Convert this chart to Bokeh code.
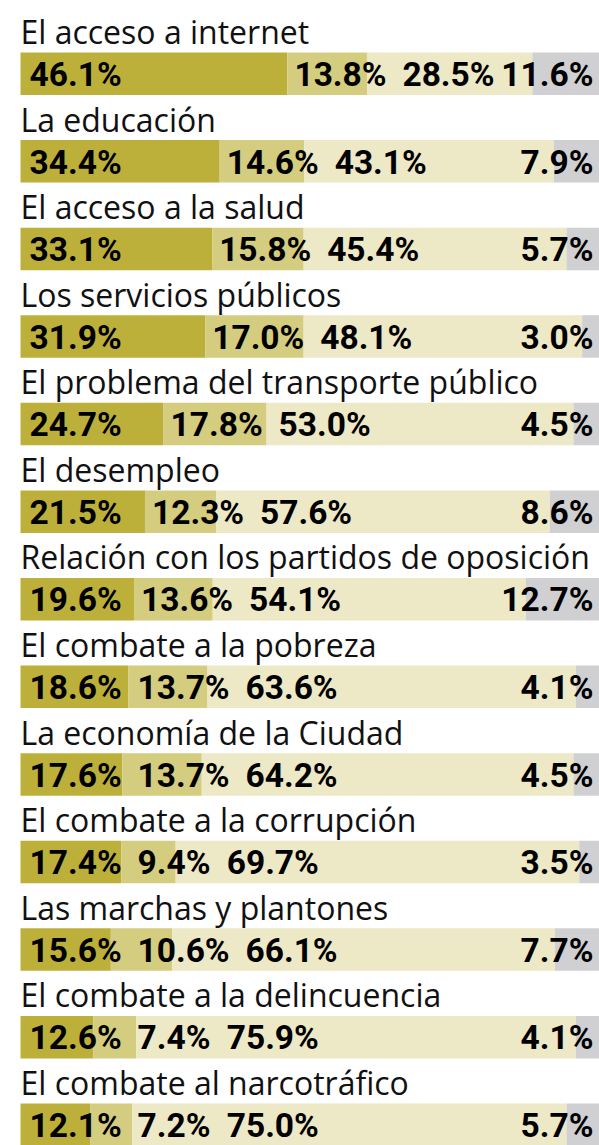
from bokeh.plotting import figure
from bokeh.models import ColumnDataSource, Range1d
from bokeh.core.properties import value
from bokeh.embed import file_html
from bokeh.resources import INLINE

categories = [
    "El acceso a internet",
    "La educación",
    "El acceso a la salud",
    "Los servicios públicos",
    "El problema del transporte público",
    "El desempleo",
    "Relación con los partidos de oposición",
    "El combate a la pobreza",
    "La economía de la Ciudad",
    "El combate a la corrupción",
    "Las marchas y plantones",
    "El combate a la delincuencia",
    "El combate al narcotráfico",
]
s1 = [46.1, 34.4, 33.1, 31.9, 24.7, 21.5, 19.6, 18.6, 17.6, 17.4, 15.6, 12.6, 12.1]
s2 = [13.8, 14.6, 15.8, 17.0, 17.8, 12.3, 13.6, 13.7, 13.7, 9.4, 10.6, 7.4, 7.2]
s3 = [28.5, 43.1, 45.4, 48.1, 53.0, 57.6, 54.1, 63.6, 64.2, 69.7, 66.1, 75.9, 75.0]
s4 = [11.6, 7.9, 5.7, 3.0, 4.5, 8.6, 12.7, 4.1, 4.5, 3.5, 7.7, 4.1, 5.7]
series = [s1, s2, s3, s4]
colors = ["#bdb03a", "#d4cc7e", "#ede8c6", "#d0d0d2"]

# layout (page pixels)
W, H = 599, 1145
BAR_LEFT_PX = 20
PX = (W - BAR_LEFT_PX) / 100.0   # px per percent unit
ROW0_TOP = 52
PITCH = 87.58
BAR_H = 42.5
LBL_FS = 32
PCT_FS = 33.5
LBL_BASE = -21     # category baseline relative to bar top
PCT_MID = 22       # percent label middle relative to bar top

x_start = -BAR_LEFT_PX / PX
p = figure(width=W, height=H, output_backend="svg", toolbar_location=None,
           x_range=Range1d(x_start, 100), y_range=Range1d(H, 0),
           min_border=0, outline_line_color=None)
p.axis.visible = False
p.grid.visible = False
p.background_fill_color = "white"

# bars
bl, br, by, bc = [], [], [], []
for i in range(len(categories)):
    top = ROW0_TOP + i * PITCH
    cum = 0.0
    for k, s in enumerate(series):
        bl.append(cum)
        br.append(cum + s[i])
        by.append(top + BAR_H / 2)
        bc.append(colors[k])
        cum += s[i]
p.hbar(y="y", left="l", right="r", height=BAR_H, color="c",
       source=ColumnDataSource(dict(y=by, l=bl, r=br, c=bc)), line_color=None)

# category labels
p.text(x=[0] * len(categories),
       y=[ROW0_TOP + i * PITCH + LBL_BASE for i in range(len(categories))],
       text=categories, text_font=value("Open Sans"), text_font_size=f"{LBL_FS}px",
       text_color="#111111", text_baseline="alphabetic", text_align="left")

# percentage labels
cw = {d: 0.5615 for d in "0123456789"}
cw["."] = 0.27
cw["%"] = 0.732
def width_units(t):
    return sum(cw[c] for c in t) * PCT_FS / PX

tx, ty, tt, ta = [], [], [], []
PAD = 7 / PX
GAP = 18 / PX
for i in range(len(categories)):
    top = ROW0_TOP + i * PITCH
    ym = top + PCT_MID
    cum = 0.0
    prev_end = None
    for k in range(3):
        t = f"{series[k][i]:.1f}%"
        if k == 0:
            x = 9 / PX
        else:
            x = max(cum + PAD, prev_end + GAP)
        tx.append(x); ty.append(ym); tt.append(t); ta.append("left")
        prev_end = x + width_units(t)
        cum += series[k][i]
    tx.append(100 - 6 / PX); ty.append(ym); tt.append(f"{s4[i]:.1f}%"); ta.append("right")

p.text(x="x", y="y", text="t", text_align="a",
       source=ColumnDataSource(dict(x=tx, y=ty, t=tt, a=ta)),
       text_font=value("Roboto"), text_font_style="bold", text_font_size=f"{PCT_FS}px",
       text_color="#000000", text_baseline="middle")

open("out.html", "w").write(file_html(p, INLINE))
